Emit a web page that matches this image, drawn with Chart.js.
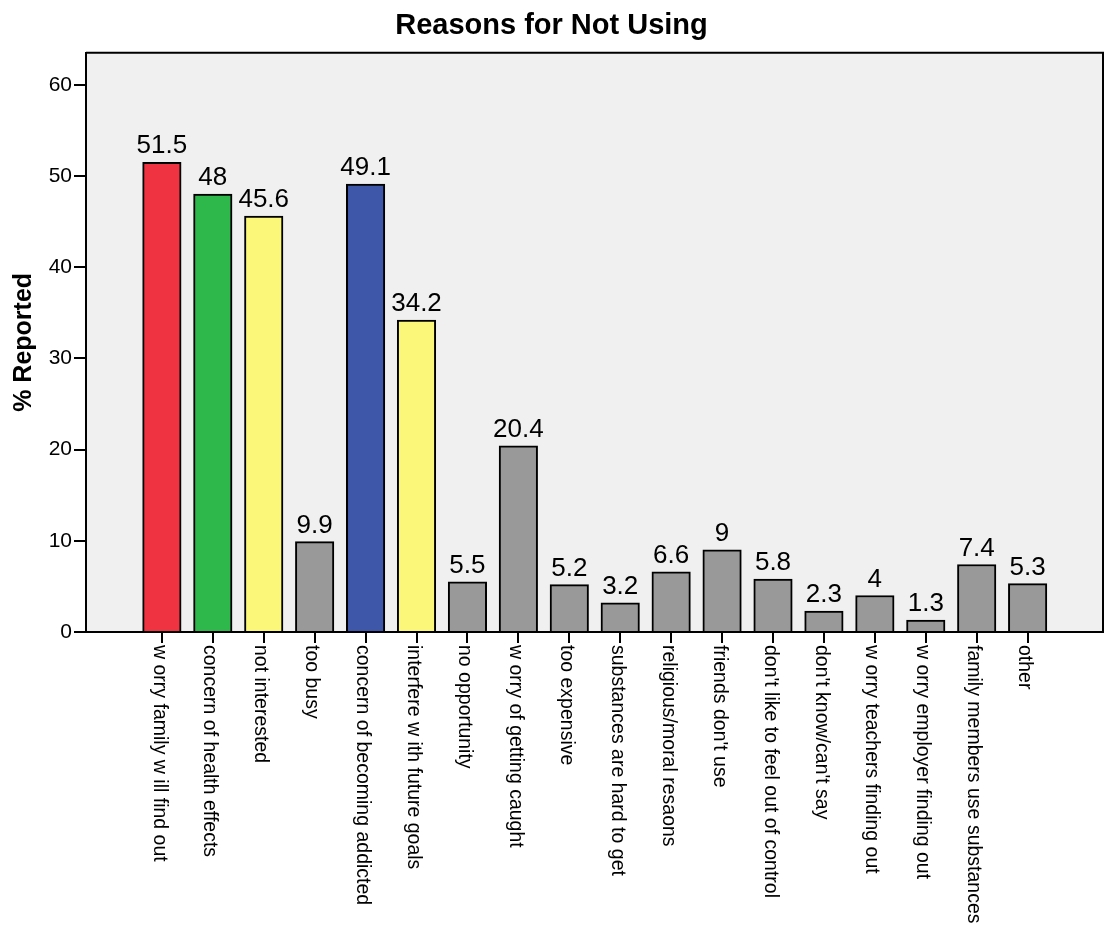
<!DOCTYPE html>
<html>
<head>
<meta charset="utf-8">
<script src="https://cdn.jsdelivr.net/npm/chart.js@4"></script>
<style>
  html, body { margin: 0; padding: 0; background: #ffffff; }
  #wrap { width: 1106px; height: 929px; position: relative; }
</style>
</head>
<body>
<div id="wrap"><canvas id="c"></canvas></div>
<script>
const categories = [
  "w orry family w ill find out",
  "concern of health effects",
  "not interested",
  "too busy",
  "concern of becoming addicted",
  "interfere w ith future goals",
  "no opportunity",
  "w orry of getting caught",
  "too expensive",
  "substances are hard to get",
  "religious/moral resaons",
  "friends don't use",
  "don't like to feel out of control",
  "don't know/can't say",
  "w orry teachers finding out",
  "w orry employer finding out",
  "family members use substances",
  "other"
];
const values = [51.5, 48, 45.6, 9.9, 49.1, 34.2, 5.5, 20.4, 5.2, 3.2, 6.6, 9, 5.8, 2.3, 4, 1.3, 7.4, 5.3];
const barColors = ["#ef3340", "#2eb84b", "#fbf779", "#999999", "#3f57a8", "#fbf779",
  "#999999", "#999999", "#999999", "#999999", "#999999", "#999999",
  "#999999", "#999999", "#999999", "#999999", "#999999", "#999999"];
const yTicks = [0, 10, 20, 30, 40, 50, 60];
const chartTitle = "Reasons for Not Using";
const yTitle = "% Reported";

const FONT = "'Liberation Sans', Arial, Helvetica, sans-serif";

const framePlugin = {
  id: 'frame',
  beforeDraw(chart) {
    const {ctx, chartArea: a} = chart;
    ctx.save();
    ctx.fillStyle = '#f0f0f0';
    ctx.fillRect(a.left, a.top, a.right - a.left, a.bottom - a.top);
    ctx.restore();
  },
  afterDraw(chart) {
    const {ctx, chartArea: a} = chart;
    ctx.save();
    ctx.strokeStyle = '#000';
    ctx.lineWidth = 2;
    ctx.beginPath();
    ctx.moveTo(a.left, a.top);
    ctx.lineTo(a.right, a.top);
    ctx.lineTo(a.right, a.bottom);
    ctx.stroke();
    ctx.restore();
  }
};

const labelsPlugin = {
  id: 'barLabels',
  afterDatasetsDraw(chart) {
    const {ctx} = chart;
    const meta = chart.getDatasetMeta(0);
    ctx.save();
    ctx.fillStyle = '#000';
    ctx.font = "26px " + FONT;
    ctx.textAlign = 'center';
    ctx.textBaseline = 'alphabetic';
    meta.data.forEach((bar, i) => {
      ctx.fillText(String(values[i]), bar.x, bar.y - 9);
    });
    ctx.restore();
  },
  afterDraw(chart) {
    const {ctx, chartArea: a} = chart;
    const xs = chart.scales.x;
    ctx.save();
    ctx.fillStyle = '#000';
    ctx.font = "19.5px " + FONT;
    ctx.textAlign = 'left';
    ctx.textBaseline = 'middle';
    categories.forEach((lab, i) => {
      const x = xs.getPixelForValue(i);
      ctx.save();
      ctx.translate(x - 3, a.bottom + 13);
      ctx.rotate(Math.PI / 2);
      ctx.fillText(lab, 0, 0);
      ctx.restore();
    });
    ctx.restore();
  }
};

new Chart(document.getElementById('c'), {
  type: 'bar',
  data: {
    datasets: [{
      data: values.map((v, i) => ({x: i, y: v})),
      backgroundColor: barColors,
      borderColor: '#000',
      borderWidth: 2,
      barThickness: 38.5
    }]
  },
  options: {
    responsive: true,
    maintainAspectRatio: false,
    animation: false,
    events: [],
    layout: { padding: { top: 0, right: 3, bottom: 286, left: 0 } },
    plugins: {
      legend: { display: false },
      tooltip: { enabled: false },
      title: {
        display: true,
        text: chartTitle,
        color: '#000',
        font: { family: FONT, size: 29, weight: 'bold' },
        padding: { top: 9, bottom: 9 }
      }
    },
    scales: {
      x: {
        type: 'linear',
        offset: false,
        min: -1.49,
        max: 18.48,
        afterBuildTicks(scale) {
          scale.ticks = categories.map((_, i) => ({value: i}));
        },
        ticks: { display: false },
        grid: { display: true, offset: false, drawOnChartArea: false, drawTicks: true, tickLength: 11, color: '#000', lineWidth: 2 },
        border: { display: true, color: '#000', width: 2 }
      },
      y: {
        min: 0,
        max: 63.5,
        afterBuildTicks(scale) {
          scale.ticks = yTicks.map(v => ({value: v}));
        },
        afterFit(scale) { scale.width = 86; },
        ticks: { color: '#000', font: { family: FONT, size: 21 }, padding: 2 },
        grid: { display: true, drawOnChartArea: false, drawTicks: true, tickLength: 12, color: '#000', lineWidth: 2 },
        border: { display: true, color: '#000', width: 2 },
        title: {
          display: true,
          text: yTitle,
          color: '#000',
          font: { family: FONT, size: 25, weight: 'bold' },
          padding: { top: 9, bottom: 0 }
        }
      }
    }
  },
  plugins: [framePlugin, labelsPlugin]
});
</script>
</body>
</html>
